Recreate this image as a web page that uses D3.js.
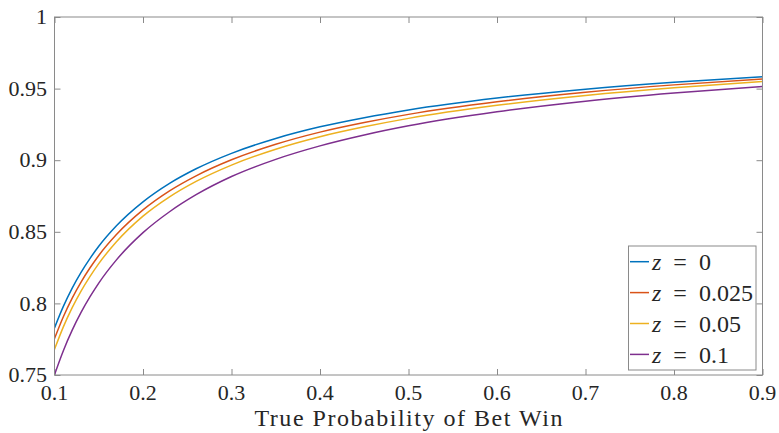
<!DOCTYPE html>
<html>
<head>
<meta charset="utf-8">
<script src="https://cdn.jsdelivr.net/npm/d3@7"></script>
<style>
  html, body { margin: 0; padding: 0; background: #fff; }
  svg { display: block; }
</style>
</head>
<body>
<svg id="chart" width="779" height="433"></svg>
<script>
// ---- data ----
const probs = [0.1, 0.11, 0.12, 0.13, 0.14, 0.15, 0.17, 0.2, 0.23, 0.26, 0.3, 0.35, 0.4, 0.45, 0.5, 0.6, 0.7, 0.8, 0.9];
const z0    = [0.7829, 0.7979, 0.8107, 0.8217, 0.8313, 0.8399, 0.8542, 0.8709, 0.8838, 0.8940, 0.9048, 0.9152, 0.9233, 0.9297, 0.9351, 0.9434, 0.9496, 0.9544, 0.9582];
const z025  = [0.7754, 0.7907, 0.8037, 0.8149, 0.8247, 0.8335, 0.8481, 0.8653, 0.8786, 0.8891, 0.9003, 0.9111, 0.9196, 0.9263, 0.9320, 0.9408, 0.9474, 0.9526, 0.9567];
const z05   = [0.7679, 0.7836, 0.7970, 0.8086, 0.8187, 0.8278, 0.8430, 0.8609, 0.8744, 0.8852, 0.8966, 0.9077, 0.9164, 0.9233, 0.9292, 0.9383, 0.9452, 0.9506, 0.9549];
const z1    = [0.7502, 0.7670, 0.7813, 0.7937, 0.8045, 0.8142, 0.8304, 0.8494, 0.8640, 0.8759, 0.8886, 0.9006, 0.9100, 0.9176, 0.9240, 0.9338, 0.9412, 0.9469, 0.9515];
const seriesNames = ["0", "0.025", "0.05", "0.1"];
const seriesValues = [z0, z025, z05, z1];
const colors = ["#0072BD", "#D95319", "#EDB120", "#7E2F8E"];
const xTicks = [0.1, 0.2, 0.3, 0.4, 0.5, 0.6, 0.7, 0.8, 0.9];
const yTicks = [0.75, 0.8, 0.85, 0.9, 0.95, 1];
const xLabel = "True Probability of Bet Win";

// ---- layout ----
const L = 54.5, R = 762.5, T = 17, B = 375;
const FONT = "Liberation Serif";
const svg = d3.select("#chart");
const x = d3.scaleLinear().domain([0.1, 0.9]).range([L, R]);
const y = d3.scaleLinear().domain([0.75, 1]).range([B, T]);
const fmt = d => String(+d.toFixed(3));
const axisColor = "#8a8a8a";
const textColor = "#262626";

svg.append("rect").attr("width", 779).attr("height", 433).attr("fill", "#fff");
svg.append("defs").append("clipPath").attr("id", "clip")
  .append("rect").attr("x", L).attr("y", T).attr("width", R - L).attr("height", B - T);

// tick marks via d3 axes (labels drawn separately)
function ticksOnly(g) {
  g.select(".domain").remove();
  g.selectAll(".tick text").remove();
  g.selectAll(".tick line").attr("stroke", axisColor).attr("stroke-width", 1);
}
svg.append("g").attr("transform", `translate(0,${B})`)
  .call(d3.axisBottom(x).tickValues(xTicks).tickSizeInner(-6).tickSizeOuter(0)).call(ticksOnly);
svg.append("g").attr("transform", `translate(0,${T})`)
  .call(d3.axisTop(x).tickValues(xTicks).tickSizeInner(-6).tickSizeOuter(0)).call(ticksOnly);
svg.append("g").attr("transform", `translate(${L},0)`)
  .call(d3.axisLeft(y).tickValues(yTicks).tickSizeInner(-6).tickSizeOuter(0)).call(ticksOnly);
svg.append("g").attr("transform", `translate(${R},0)`)
  .call(d3.axisRight(y).tickValues(yTicks).tickSizeInner(-6).tickSizeOuter(0)).call(ticksOnly);

// tick labels
svg.append("g").selectAll("text").data(xTicks).join("text")
  .attr("x", d => x(d)).attr("y", 399.5)
  .attr("text-anchor", "middle").attr("font-family", FONT).attr("font-size", 22)
  .attr("fill", textColor).text(fmt);
svg.append("g").selectAll("text").data(yTicks).join("text")
  .attr("x", L - 7.5).attr("y", d => y(d)).attr("dy", "0.33em")
  .attr("text-anchor", "end").attr("font-family", FONT).attr("font-size", 22)
  .attr("fill", textColor).text(fmt);

// curves
const line = d3.line().x((d, i) => x(probs[i])).y(d => y(d)).curve(d3.curveMonotoneX);
const lg = svg.append("g").attr("clip-path", "url(#clip)");
seriesValues.forEach((vals, k) => {
  lg.append("path").datum(vals).attr("d", line)
    .attr("fill", "none").attr("stroke", colors[k]).attr("stroke-width", 1.5)
    .attr("stroke-linejoin", "round");
});

svg.append("rect").attr("x", L).attr("y", T).attr("width", R - L).attr("height", B - T)
  .attr("fill", "none").attr("stroke", axisColor).attr("stroke-width", 1);

// x label
svg.append("text").attr("x", (L + R) / 2).attr("y", 426)
  .attr("text-anchor", "middle").attr("fill", textColor)
  .attr("font-family", FONT).attr("font-size", 24)
  .attr("textLength", 308).attr("lengthAdjust", "spacing")
  .text(xLabel);

// legend
const leg = svg.append("g");
leg.append("rect").attr("x", 628.5).attr("y", 246).attr("width", 127.5).attr("height", 124)
  .attr("fill", "#fff").attr("stroke", axisColor).attr("stroke-width", 1);
seriesNames.forEach((name, k) => {
  const cy = 261.7 + k * 30.9;
  leg.append("line").attr("x1", 630).attr("x2", 649).attr("y1", cy).attr("y2", cy)
    .attr("stroke", colors[k]).attr("stroke-width", 1.5);
  const t = leg.append("text").attr("x", 652).attr("y", cy).attr("dy", "0.34em")
    .attr("fill", textColor).attr("font-family", FONT).attr("font-size", 24);
  t.append("tspan").attr("font-style", "italic").text("z");
  t.append("tspan").text("\u2002=\u2002" + name);
});
</script>
</body>
</html>
